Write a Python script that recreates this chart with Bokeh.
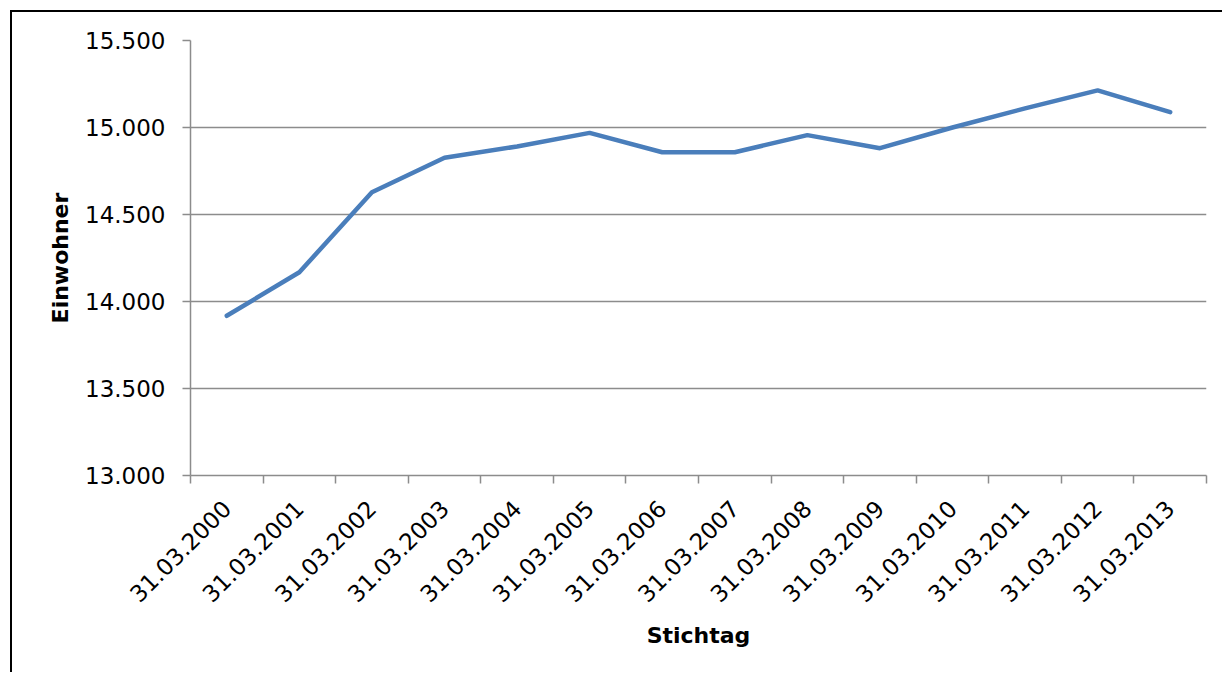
import math

import numpy as np
from bokeh.embed import file_html
from bokeh.models import FixedTicker, Range1d
from bokeh.plotting import figure
from bokeh.resources import INLINE

# Einwohnerzahl zum Stichtag 31.03. jedes Jahres
stichtage = ["31.03.2000", "31.03.2001", "31.03.2002", "31.03.2003", "31.03.2004",
             "31.03.2005", "31.03.2006", "31.03.2007", "31.03.2008", "31.03.2009",
             "31.03.2010", "31.03.2011", "31.03.2012", "31.03.2013"]
einwohner = [13918, 14168, 14628, 14826, 14891, 14969, 14858,
             14858, 14956, 14881, 15000, 15110, 15213, 15088]
y_ticks = [13000, 13500, 14000, 14500, 15000, 15500]

n = len(stichtage)
# each date sits in the middle of its own category slot
x_mid = np.arange(n) + 0.5
x_edges = list(range(n + 1))

FONT = "DejaVu Sans"
GRID = "#8c8c8c"

p = figure(width=1212, height=662, output_backend="svg", toolbar_location=None,
           x_range=Range1d(0, n), y_range=Range1d(y_ticks[0], y_ticks[-1]),
           min_border_left=178, min_border_right=18, min_border_top=28,
           min_border_bottom=199)
# chart-area frame: thin black line along the top and left edge
p.margin = (10, 0, 0, 10)
p.styles = {"border-top": "2px solid black", "border-left": "2px solid black"}
p.outline_line_color = None
p.background_fill_color = "white"
p.border_fill_color = "white"

p.line(x_mid, einwohner, line_color="#4a7ebb", line_width=4.5,
       line_join="round", line_cap="round")

# x axis: labels in the slot centres, tick marks on the slot borders
xa = p.xaxis[0]
xa.ticker = FixedTicker(ticks=list(x_mid), minor_ticks=x_edges)
xa.major_label_overrides = {float(x): s for x, s in zip(x_mid, stichtage)}
xa.major_label_orientation = math.pi / 4
xa.major_tick_out = 0
xa.major_tick_in = 0
xa.minor_tick_out = 8
xa.minor_tick_in = 0
xa.minor_tick_line_color = GRID
xa.minor_tick_line_width = 1.5
xa.axis_line_color = GRID
xa.axis_line_width = 1.5
xa.major_label_text_font = FONT
xa.major_label_text_font_size = "23px"
xa.major_label_text_color = "black"
xa.major_label_standoff = 21
xa.axis_label = "Stichtag"
xa.axis_label_text_font = FONT
xa.axis_label_text_font_size = "22px"
xa.axis_label_text_font_style = "bold"
xa.axis_label_text_color = "black"
xa.axis_label_standoff = 10

# y axis with German thousands separator
ya = p.yaxis[0]
ya.ticker = FixedTicker(ticks=y_ticks)
ya.major_label_overrides = {v: f"{v:,}".replace(",", ".") for v in y_ticks}
ya.major_tick_out = 8
ya.major_tick_in = 0
ya.minor_tick_out = 0
ya.minor_tick_in = 0
ya.major_tick_line_color = GRID
ya.major_tick_line_width = 1.5
ya.axis_line_color = GRID
ya.axis_line_width = 1.5
ya.major_label_text_font = FONT
ya.major_label_text_font_size = "23px"
ya.major_label_text_color = "black"
ya.major_label_standoff = 17
ya.axis_label = "Einwohner"
ya.axis_label_text_font = FONT
ya.axis_label_text_font_size = "22px"
ya.axis_label_text_font_style = "bold"
ya.axis_label_text_color = "black"
ya.axis_label_standoff = 9

p.xgrid.grid_line_color = None
p.ygrid.grid_line_color = GRID
p.ygrid.grid_line_width = 1.5

open("out.html", "w").write(file_html(p, INLINE))
